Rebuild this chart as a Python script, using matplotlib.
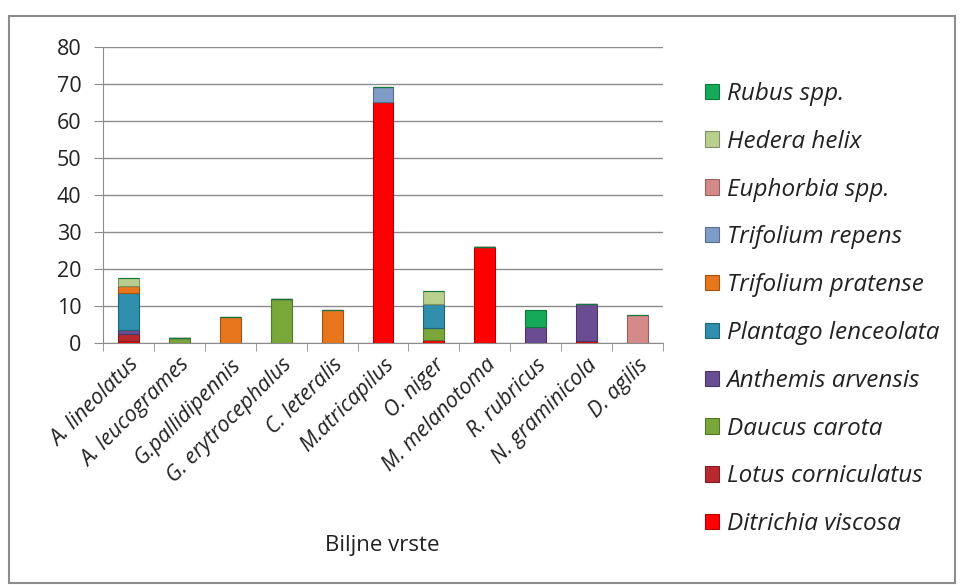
import matplotlib
matplotlib.use("Agg")
import matplotlib.pyplot as plt
import numpy as np
from matplotlib.patches import Rectangle
from matplotlib.colors import to_rgb

plt.rcParams["font.family"] = ["Open Sans", "DejaVu Sans"]

# kukci (kategorije na x osi)
vrste_kukaca = ["A. lineolatus", "A. leucogrames", "G.pallidipennis",
                "G. erytrocephalus", "C. leteralis", "M.atricapilus",
                "O. niger", "M. melanotoma", "R. rubricus",
                "N. graminicola", "D. agilis"]

# biljne vrste (serije, odozdo prema gore)
ditrichia_viscosa = [0.5, 0, 0, 0, 0, 65, 1, 26, 0, 0.7, 0]
lotus_corniculatus = [2, 0, 0, 0, 0, 0, 0, 0, 0, 0, 0]
daucus_carota = [0, 1.5, 0, 12, 0, 0, 3, 0, 0, 0, 0]
anthemis_arvensis = [1, 0, 0, 0, 0, 0, 0, 0, 4.5, 10, 0]
plantago_lenceolata = [10, 0, 0, 0, 0, 0, 6.5, 0, 0, 0, 0]
trifolium_pratense = [2, 0, 7, 0, 9, 0, 0, 0, 0, 0, 0]
trifolium_repens = [0, 0, 0, 0, 0, 4, 0, 0, 0, 0, 0]
euphorbia_spp = [0, 0, 0, 0, 0, 0, 0, 0, 0, 0, 7.5]
hedera_helix = [2, 0, 0, 0, 0, 0, 3.5, 0, 0, 0, 0]
rubus_spp = [0, 0, 0, 0, 0, 0, 0, 0, 4.5, 0, 0]

serije = [
    ("Ditrichia viscosa", ditrichia_viscosa, "#ff0000"),
    ("Lotus corniculatus", lotus_corniculatus, "#b8292f"),
    ("Daucus carota", daucus_carota, "#7aa73a"),
    ("Anthemis arvensis", anthemis_arvensis, "#6a4c93"),
    ("Plantago lenceolata", plantago_lenceolata, "#2f8fad"),
    ("Trifolium pratense", trifolium_pratense, "#e8761c"),
    ("Trifolium repens", trifolium_repens, "#7f9cc9"),
    ("Euphorbia spp.", euphorbia_spp, "#d48a89"),
    ("Hedera helix", hedera_helix, "#b9cf8e"),
    ("Rubus spp.", rubus_spp, "#17a95a"),
]


def tamnija(boja, f=0.7):
    r, g, b = to_rgb(boja)
    return (r * f, g * f, b * f)


fig = plt.figure(figsize=(9.6, 5.85), dpi=100)
fig.patches.append(Rectangle((9 / 960, 2 / 585), 946 / 960, 567 / 585,
                             transform=fig.transFigure, fill=False,
                             edgecolor="#8c8c8c", linewidth=1.5))
ax = fig.add_axes([103 / 960, 241.7 / 585, 560 / 960, 296.6 / 585])

x = np.arange(len(vrste_kukaca))
dno = np.zeros(len(vrste_kukaca))
rucke = []
for ime, vrijednosti, boja in serije:
    v = np.array(vrijednosti, dtype=float)
    b = ax.bar(x, v, width=0.41, bottom=dno, color=boja,
               edgecolor=tamnija(boja), linewidth=0.8, label=ime, zorder=3)
    rucke.append(b)
    dno += v

ax.set_xlim(-0.5, len(vrste_kukaca) - 0.5)
ax.set_ylim(0, 80)
ax.set_yticks(range(0, 81, 10))
ax.yaxis.grid(True, color="#8c8c8c", linewidth=1, zorder=0)
ax.tick_params(axis="y", length=6.5, color="#8c8c8c", labelsize=15.5,
               labelcolor="#222222", pad=9)
for s in ["top", "right"]:
    ax.spines[s].set_visible(False)
ax.spines["left"].set_color("#8c8c8c")
ax.spines["bottom"].set_color("#8c8c8c")

ax.set_xticks(x)
ax.set_xticklabels(vrste_kukaca, rotation=45, ha="right", va="top",
                   rotation_mode="anchor", fontstyle="italic", fontsize=15.5,
                   color="#222222")
ax.tick_params(axis="x", which="major", length=0, pad=8)
ax.set_xticks(np.arange(-0.5, len(vrste_kukaca), 1), minor=True)
ax.tick_params(axis="x", which="minor", length=6, color="#8c8c8c")

fig.text(382 / 960, 1 - 545 / 585, "Biljne vrste", ha="center", va="center",
         fontsize=16, color="#222222")

leg = fig.legend(handles=rucke[::-1], labels=[s[0] for s in serije][::-1],
                 loc="upper left", bbox_to_anchor=(683 / 960, 1 - 60 / 585),
                 frameon=False, prop={"style": "italic", "size": 17.5},
                 handlelength=0.6, handleheight=0.6, handletextpad=0.3,
                 labelspacing=0.98)
for t in leg.get_texts():
    t.set_color("#222222")

fig.savefig("out.png", dpi=100)
